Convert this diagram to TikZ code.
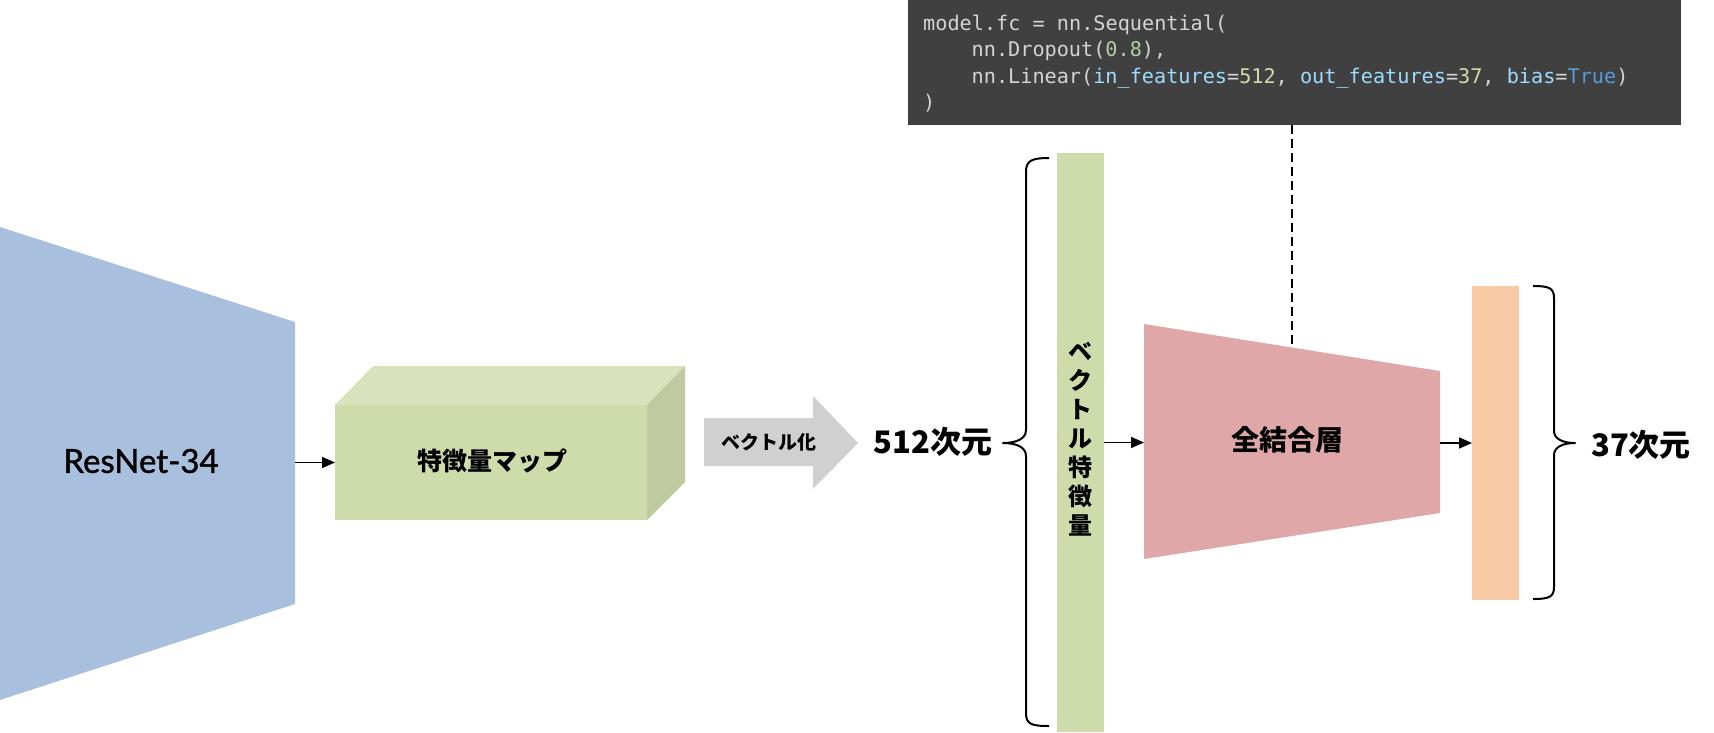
\documentclass[tikz,border=0pt]{standalone}
\usepackage{fontspec}
\usetikzlibrary{arrows.meta}
\newfontfamily\cjk{Noto Sans CJK JP}
\newfontfamily\latofont{Lato}[FakeBold=1.2]
\newfontfamily\codefont{DejaVu Sans Mono}
\definecolor{resblue}{HTML}{A8C0DE}
\definecolor{fmapfront}{HTML}{CEDCAC}
\definecolor{fmaptop}{HTML}{D8E3BD}
\definecolor{fmapside}{HTML}{BFCAA1}
\definecolor{arrgray}{HTML}{D0D0D0}
\definecolor{fcpink}{HTML}{DFA7A7}
\definecolor{outorange}{HTML}{F9CBA5}
\definecolor{codebg}{HTML}{404040}
\definecolor{codetxt}{HTML}{D4D4D4}
\definecolor{codeparam}{HTML}{9CDCFE}
\definecolor{codenum}{HTML}{B5CEA8}
\definecolor{codenumb}{HTML}{D5D9A6}
\definecolor{codekw}{HTML}{569CD6}
\begin{document}
\begin{tikzpicture}[x=1pt,y=-1pt,
  lbl/.style={font=\cjk\bfseries\fontsize{#1pt}{#1pt}\selectfont, inner sep=0pt},
  block/.style={inner sep=0pt, outer sep=0pt, anchor=north west},
  conn/.style={line width=1.6pt, -{Triangle[length=13pt,width=11pt]}},
  bracepath/.style={line width=2pt, line join=round},
  codeline/.style={anchor=base west, inner sep=0pt, text=codetxt,
    font=\codefont\fontsize{20.2pt}{26.5pt}\selectfont}]
\useasboundingbox (0,0) rectangle (1714,732);

% ResNet trapezoid
\fill[resblue] (0,227) -- (295,322) -- (295,604) -- (0,700) -- cycle;
\node[inner sep=0pt, font=\latofont\fontsize{33pt}{33pt}\selectfont] (res) at (141,461) {ResNet-34};
\coordinate (resR) at (295,462.5);

% feature map cube
\node[block, fill=fmapfront, minimum width=312pt, minimum height=115pt] (fmap) at (335,405) {};
\fill[fmaptop] (fmap.north west) -- (373,366) -- (685,366) -- (fmap.north east) -- cycle;
\fill[fmapside] (fmap.north east) -- (685,366) -- (685,482) -- (fmap.south east) -- cycle;
\node[lbl=25] (fmaptext) at (492,461) {特徴量マップ};
\draw[conn] (resR) -- (fmap.west);

% vectorize arrow
\fill[arrgray] (704,418) -- (813,418) -- (813,396) -- (858,443) -- (813,489) -- (813,466) -- (704,466) -- cycle;
\node[lbl=19] (vectxt) at (769,442) {ベクトル化};

% 512 dims
\node[lbl=31] (d512) at (933,442) {512次元};

% left brace
\draw[bracepath] (1049,158) .. controls (1031,158) and (1026,161) .. (1026,172)
  -- (1026,430) .. controls (1026,439) and (1016,443) .. (1003,443)
  .. controls (1016,443) and (1026,447) .. (1026,456)
  -- (1026,713) .. controls (1026,724) and (1031,726) .. (1049,726);

% vector bar
\node[block, fill=fmapfront, minimum width=47pt, minimum height=579pt] (vbar) at (1057,153) {};
\node[align=center, inner sep=0pt, font=\cjk\bfseries\fontsize{24pt}{29pt}\selectfont] (vtext) at (1080.5,439) {ベ\\ク\\ト\\ル\\特\\徴\\量};

% fully connected trapezoid
\fill[fcpink] (1144,324) -- (1440,371) -- (1440,513) -- (1144,559) -- cycle;
\coordinate (fcL) at (1144,442.5);
\coordinate (fcR) at (1440,443);
\coordinate (fcTop) at (1292,347.5);
\node[lbl=28] (fctext) at (1287,440) {全結合層};
\draw[conn] (vbar.east) -- (fcL);

% output bar
\node[block, fill=outorange, minimum width=47pt, minimum height=314pt] (obar) at (1472,286) {};
\draw[conn] (fcR) -- (obar.west);

% right brace
\draw[bracepath] (1533,286) .. controls (1549,286) and (1554,288) .. (1554,298)
  -- (1554,431) .. controls (1554,439) and (1563,443) .. (1575,443)
  .. controls (1563,443) and (1554,447) .. (1554,455)
  -- (1554,587) .. controls (1554,597) and (1549,599) .. (1533,599);
\node[lbl=31] (d37) at (1641,445) {37次元};

% code box
\node[block, fill=codebg, minimum width=773pt, minimum height=125pt] (code) at (908,0) {};
\node[codeline] (c1) at (923,30) {model.fc = nn.Sequential(};
\node[codeline] (c2) at (971.5,56.5) {nn.Dropout(\textcolor{codenum}{0.8}),};
\node[codeline] (c3) at (971.5,83) {nn.Linear(\textcolor{codeparam}{in\_features}=\textcolor{codenumb}{512}, \textcolor{codeparam}{out\_features}=\textcolor{codenumb}{37}, \textcolor{codeparam}{bias}=\textcolor{codekw}{True})};
\node[codeline] (c4) at (923,109.5) {)};

% dashed link
\draw[line width=1.6pt, dash pattern=on 9pt off 5pt] (code.south -| fcTop) -- (fcTop);
\end{tikzpicture}
\end{document}
